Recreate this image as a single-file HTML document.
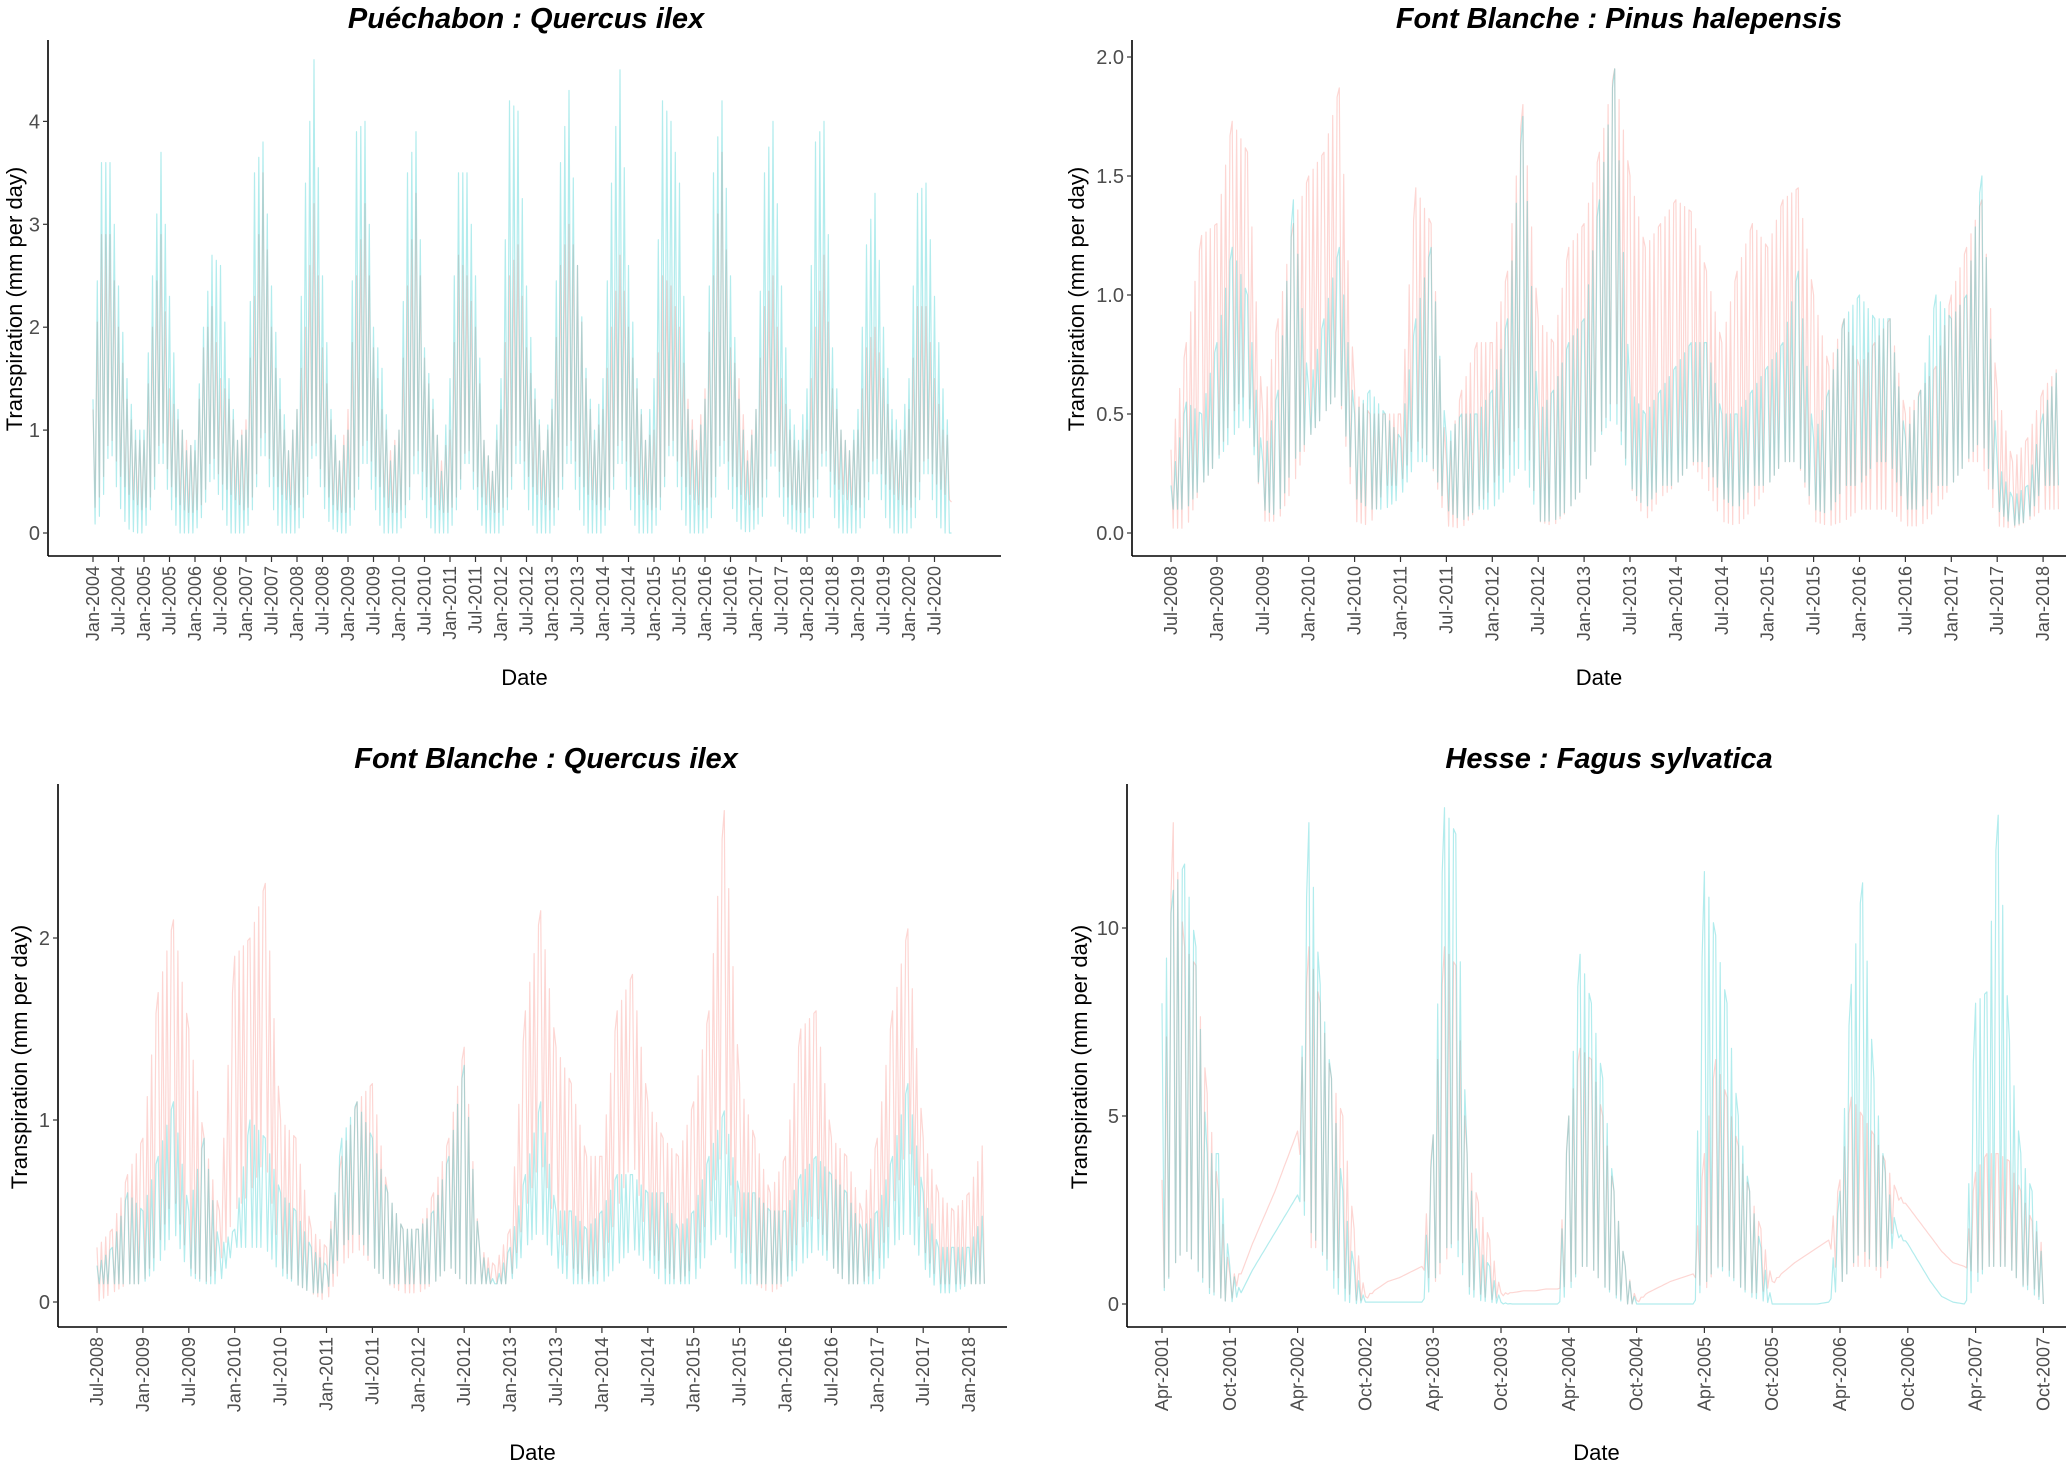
<!DOCTYPE html>
<html><head><meta charset="utf-8"><style>
body{margin:0;background:#fff;}
svg{display:block;font-family:"Liberation Sans",sans-serif;}
</style></head><body>
<svg id="c" width="2067" height="1461" viewBox="0 0 2067 1461"></svg>
<script>
// ---- Puéchabon: Quercus ilex (bimonthly from Jan-2004)
const pqTealHi=[1.3,3.6,3.6,2.4,1.5,1.0, 1.0,2.5,3.7,2.3,1.2,0.8, 0.9,2.0,2.7,2.6,1.5,0.9, 1.0,3.5,3.8,2.4,1.5,0.8, 1.2,3.4,4.6,2.5,1.2,0.7, 1.0,3.9,4.0,2.0,1.6,0.7, 1.0,3.5,3.9,1.8,1.3,0.6, 1.5,3.5,3.5,2.5,0.9,0.6, 1.5,4.2,4.1,2.4,1.4,0.8, 1.3,3.6,4.3,2.6,1.6,1.0, 1.5,3.4,4.5,2.6,1.5,0.9, 1.5,4.2,4.0,3.4,1.2,0.8, 1.3,3.5,4.2,2.5,1.3,0.7, 1.2,3.5,4.0,2.4,1.2,0.9, 1.4,3.8,4.0,1.8,1.0,0.8, 1.2,2.8,3.3,2.0,1.2,1.0, 1.5,3.3,3.4,2.3,1.4,0.8];
const pqTealLo=[0.05,0.2,0.9,0.3,0.05,0.0, 0.0,0.3,0.8,0.3,0.0,0.0, 0.0,0.2,0.6,0.3,0.0,0.0, 0.0,0.3,0.9,0.3,0.0,0.0, 0.0,0.2,0.9,0.3,0.05,0.0, 0.0,0.3,0.8,0.3,0.0,0.0, 0.0,0.2,0.7,0.2,0.0,0.0, 0.0,0.3,0.8,0.3,0.0,0.0, 0.0,0.3,0.8,0.3,0.0,0.0, 0.0,0.3,0.8,0.3,0.0,0.0, 0.0,0.3,0.8,0.3,0.0,0.0, 0.0,0.3,0.9,0.3,0.0,0.0, 0.0,0.2,0.8,0.3,0.05,0.0, 0.05,0.2,0.8,0.2,0.05,0.0, 0.0,0.2,0.8,0.2,0.0,0.0, 0.0,0.2,0.7,0.2,0.0,0.0, 0.0,0.2,0.7,0.2,0.0,0.0];
const pqSalHi=[1.2,2.9,2.9,2.0,1.3,0.9, 0.9,2.0,2.9,1.4,1.1,0.9, 0.8,1.8,2.2,1.5,1.3,0.9, 1.1,2.3,3.5,2.0,1.2,0.8, 1.2,2.0,3.2,1.8,1.1,0.7, 1.2,2.5,3.2,1.8,1.2,0.8, 1.0,2.4,3.3,1.7,1.2,0.7, 1.0,2.7,2.5,2.0,0.9,0.6, 1.2,2.5,2.8,1.8,1.3,0.8, 1.2,2.6,3.0,2.6,1.5,0.9, 1.2,2.0,2.7,2.0,1.4,0.9, 1.0,2.5,2.4,2.0,1.3,0.9, 1.4,2.5,3.7,1.8,1.5,0.8, 1.2,2.2,2.5,1.5,1.0,0.8, 1.0,2.0,2.7,1.4,1.0,0.8, 1.0,1.8,2.0,1.5,1.0,0.8, 1.2,2.2,2.2,1.5,1.0,0.9];
const pqSalLo=[0.2,0.4,1.0,0.6,0.4,0.3, 0.2,0.4,1.0,0.5,0.3,0.2, 0.2,0.3,0.8,0.5,0.4,0.3, 0.2,0.4,1.1,0.6,0.4,0.3, 0.2,0.4,1.0,0.5,0.3,0.2, 0.2,0.4,1.0,0.6,0.4,0.2, 0.2,0.3,0.9,0.5,0.3,0.2, 0.2,0.4,0.9,0.5,0.3,0.2, 0.2,0.4,1.0,0.6,0.4,0.3, 0.2,0.4,1.0,0.6,0.4,0.3, 0.2,0.4,1.0,0.6,0.4,0.3, 0.2,0.4,1.0,0.6,0.4,0.3, 0.2,0.4,1.0,0.6,0.4,0.3, 0.2,0.4,0.9,0.5,0.3,0.2, 0.2,0.4,0.9,0.5,0.4,0.3, 0.2,0.4,0.8,0.5,0.4,0.3, 0.2,0.4,0.8,0.5,0.4,0.3];
const pqTicks=["Jan-2004","Jul-2004","Jan-2005","Jul-2005","Jan-2006","Jul-2006","Jan-2007","Jul-2007","Jan-2008","Jul-2008","Jan-2009","Jul-2009","Jan-2010","Jul-2010","Jan-2011","Jul-2011","Jan-2012","Jul-2012","Jan-2013","Jul-2013","Jan-2014","Jul-2014","Jan-2015","Jul-2015","Jan-2016","Jul-2016","Jan-2017","Jul-2017","Jan-2018","Jul-2018","Jan-2019","Jul-2019","Jan-2020","Jul-2020"];
const pqYTicks=[0,1,2,3,4];
// ---- Font Blanche: Pinus halepensis (bimonthly from Jul-2008)
const fpSalHi=[.35,.8,1.25, 1.3,1.73,1.6,.5,.9,1.3, 1.5,1.6,1.87,.6,.5,.5, .5,1.45,1.3,.3,.6,.8, .8,1.1,1.8,.9,.8,1.2, 1.3,1.6,1.95,1.5,1.2,1.3, 1.4,1.35,1.1,.8,1.1,1.3, 1.2,1.4,1.45,1.0,.7,.9, .7,.8,.9,.5,.6,.7, 1.0,1.2,1.4,.6,.3,.4, .6,.7];
const fpSalLo=[.02,.02,.2, .3,.5,.6,.05,.05,.2, .4,.5,.6,.05,.03,.2, .2,.4,.3,.03,.02,.1, .2,.3,.5,.05,.03,.1, .2,.4,.6,.2,.05,.15, .2,.3,.2,.05,.03,.1, .2,.3,.3,.05,.03,.05, .1,.1,.1,.03,.03,.1, .2,.3,.3,.03,.02,.05, .1,.1];
const fpTealHi=[.2,.55,.5, .8,1.2,1.0,.3,.6,1.4, .6,.9,1.2,.5,.6,.5, .4,.9,1.2,.4,.5,.5, .6,.9,1.75,.5,.6,.8, .9,1.4,1.95,.6,.5,.6, .7,.8,.8,.5,.5,.6, .7,.8,1.1,.4,.6,.9, 1.0,.9,.9,.4,.6,1.0, .9,1.0,1.5,.3,.15,.2, .5,.7];
const fpTealLo=[.1,.1,.2, .3,.4,.5,.1,.07,.3, .4,.5,.6,.15,.1,.1, .15,.3,.3,.1,.05,.1, .1,.2,.3,.05,.05,.1, .2,.4,.5,.2,.1,.2, .2,.3,.3,.15,.1,.2, .2,.3,.3,.1,.08,.2, .2,.3,.3,.1,.1,.2, .2,.3,.4,.1,.03,.05, .2,.2];
const fbTicks=["Jul-2008","Jan-2009","Jul-2009","Jan-2010","Jul-2010","Jan-2011","Jul-2011","Jan-2012","Jul-2012","Jan-2013","Jul-2013","Jan-2014","Jul-2014","Jan-2015","Jul-2015","Jan-2016","Jul-2016","Jan-2017","Jul-2017","Jan-2018"];
const fpYTicks=[0,0.5,1,1.5,2];
// ---- Font Blanche: Quercus ilex (bimonthly from Jul-2008)
const fqSalHi=[.3,.4,.7, .9,1.7,2.1,1.5,.9,.5, 1.9,2.0,2.3,1.0,.9,.4, .3,.8,1.1,1.2,.6,.4, .4,.6,.9,1.4,.3,.2, .4,1.6,2.15,1.4,1.2,.8, .8,1.6,1.8,1.1,.9,.8, 1.1,1.6,2.7,1.2,.9,.6, .8,1.5,1.6,.9,.8,.5, .9,1.6,2.05,.9,.6,.5, .6,.9];
const fqSalLo=[0,.05,.1, .1,.3,.6,.2,.1,.2, .5,.6,.8,.2,.1,.05, 0,.2,.3,.2,.1,.05, .05,.1,.2,.1,.1,.1, .1,.5,.8,.4,.2,.1, .2,.5,.8,.3,.2,.1, .2,.5,.9,.3,.1,.05, .1,.4,.5,.2,.1,.1, .2,.5,.9,.3,.1,.1, .1,.1];
const fqTealHi=[.2,.3,.6, .5,.8,1.1,.5,.9,.3, .4,1.0,.9,.6,.5,.3, .2,.9,1.1,.9,.6,.4, .4,.5,.8,1.3,.3,.1, .3,.7,1.1,.5,.5,.4, .5,.7,.7,.6,.6,.4, .5,.8,1.05,.6,.6,.5, .5,.7,.8,.7,.6,.4, .5,.8,1.2,.6,.3,.3, .3,.5];
const fqTealLo=[.1,.1,.1, .1,.2,.4,.15,.1,.1, .3,.3,.3,.15,.1,.05, .05,.3,.4,.2,.1,.1, .1,.1,.2,.1,.1,.1, .1,.3,.4,.2,.1,.1, .1,.2,.3,.2,.1,.1, .1,.3,.4,.1,.1,.1, .1,.2,.3,.2,.1,.1, .1,.3,.4,.2,.05,.05, .1,.1];
const fqYTicks=[0,1,2];
// ---- Hesse: Fagus sylvatica (monthly from Apr-2001)
const hsSalHi=[3.3,12.8,9.5,9,5.6,3,.8,.8,1.6, 2.3,3,3.8,4.6,9.5,8,6,5,2,.2,.4,.6, .7,.85,1,4.5,9.5,9,4,2.7,1.7,.3,.3,.35, .35,.4,.4,5,6.8,6.5,5,3,1,.1,.3,.45, .6,.7,.8,4,6.5,5.5,4.2,3,2,.6,.85,1.1, 1.3,1.5,1.7,3.3,5.5,5,4.5,3.8,3,2.6,2.2,1.8, 1.4,1.1,1.0,3.5,4,4,3.8,3,2.2,1.5];
const hsSalLo=[.3,1,1.5,1,.5,.2,0,.8,1.6, 2.3,3,3.8,4.6,1.5,1.5,1,.5,.1,.1,.4,.6, .7,.85,1,.5,1,2,.5,.3,.1,.2,.3,.35, .35,.4,.4,.5,1,1,.5,.3,0,0,.3,.45, .6,.7,.8,.3,1,1,.5,.3,.3,.5,.85,1.1, 1.3,1.5,1.7,.5,1,1,1,.5,2.8,2.6,2.2,1.8, 1.4,1.1,1.0,.8,1,1,1,.5,.5,0];
const hsTealHi=[8,11,11.7,9.5,4,4,1,.3,.9, 1.4,1.9,2.4,2.9,12.8,8.5,6,3,1,.05,.05,.05, .05,.05,.05,4.5,13.2,12.5,4,1.5,1,.05,0,0, 0,0,0,5,9.3,8,6,3,1,0,0,0, 0,0,0,11.5,9.8,8,5,3,1.5,0,0,0, 0,0,.05,3,8.5,11.2,6,3.5,2,1.6,1.1,.6, .2,.05,0,8,8.3,13,7,4,3,1];
const hsTealLo=[.2,1,1.5,1,.3,.2,0,.3,.9, 1.4,1.9,2.4,2.9,2,1.5,.5,.1,0,.05,.05,.05, .05,.05,.05,.5,1.5,1.5,.3,.1,.05,0,0,0, 0,0,0,.3,1,1,.5,.2,0,0,0,0, 0,0,0,.5,1,.8,.5,.2,.1,0,0,0, 0,0,.05,.5,1,1.5,1,1,1.8,1.6,1.1,.6, .2,.05,0,.5,1,1,1,.5,.3,0];
const hsTicks=["Apr-2001","Oct-2001","Apr-2002","Oct-2002","Apr-2003","Oct-2003","Apr-2004","Oct-2004","Apr-2005","Oct-2005","Apr-2006","Oct-2006","Apr-2007","Oct-2007"];
const hsYTicks=[0,5,10];

const NS="http://www.w3.org/2000/svg";
const svg=document.getElementById('c');
function mk(tag,attrs,parent){const e=document.createElementNS(NS,tag);for(const k in attrs)e.setAttribute(k,attrs[k]);(parent||svg).appendChild(e);return e;}

function panel(cfg){
  const g=mk('g',{});
  
  
  const xOf=m=>cfg.x0+m*cfg.mpx;
  const yOf=v=>cfg.y0-v*cfg.ypu;
  cfg.series.forEach(s=>{
    const pts=[];
    for(let i=0;i<s.hi.length-1;i++){
      const xa=xOf(cfg.start+i*cfg.step), xb=xOf(cfg.start+(i+1)*cfg.step);
      const n=Math.max(2,Math.round((xb-xa)/2.2));
      for(let k=0;k<n;k++){
        const t=k/n;
        const hi=s.hi[i]+(s.hi[i+1]-s.hi[i])*t, lo=s.lo[i]+(s.lo[i+1]-s.lo[i])*t;
        pts.push((xa+(xb-xa)*t).toFixed(1)+','+yOf(k%2?lo:hi).toFixed(1));
      }
    }
    const last=s.hi.length-1;
    pts.push(xOf(cfg.start+last*cfg.step).toFixed(1)+','+yOf(s.lo[last]).toFixed(1));
    const pl=mk('polyline',{points:pts.join(' '),fill:'none',stroke:s.color,'stroke-width':1.2,'stroke-opacity':0.3,'stroke-linejoin':'round'},g);
    
    
  });
  const ya=mk('line',{x1:cfg.ax,y1:cfg.top,x2:cfg.ax,y2:cfg.axY,stroke:'#000','stroke-width':1.6},g);
  
  
  const xa=mk('line',{x1:cfg.ax,y1:cfg.axY,x2:cfg.right,y2:cfg.axY,stroke:'#000','stroke-width':1.6},g);
  
  
  cfg.yticks.forEach(v=>{
    const y=yOf(v);
    mk('line',{x1:cfg.ax-5,y1:y,x2:cfg.ax,y2:y,stroke:'#333','stroke-width':1.2},g);
    const t=mk('text',{x:cfg.ax-8,y:y+7,'text-anchor':'end','font-size':20,fill:'#4d4d4d'},g);
    t.textContent=cfg.yfmt?v.toFixed(1):String(v);
    
    
  });
  cfg.xticks.forEach((lab,i)=>{
    const x=xOf(cfg.tick0+i*cfg.tickStep);
    mk('line',{x1:x,y1:cfg.axY,x2:x,y2:cfg.axY+6,stroke:'#333','stroke-width':1.2},g);
    const t=mk('text',{x:x+6,y:cfg.axY+10,'text-anchor':'end','font-size':18,fill:'#4d4d4d',transform:`rotate(-90 ${x+6} ${cfg.axY+10})`},g);
    t.textContent=lab;
    
    
  });
  const ti=mk('text',{x:cfg.tx,y:cfg.ty,'text-anchor':'middle','font-size':29,'font-weight':'bold','font-style':'italic',fill:'#000'},g);
  ti.textContent=cfg.title;
  
  
  const xt=mk('text',{x:(cfg.ax+cfg.right)/2,y:cfg.dateY,'text-anchor':'middle','font-size':22,fill:'#000'},g);
  xt.textContent='Date';
  
  
  const yt=mk('text',{x:cfg.ylx,y:cfg.yly,'text-anchor':'middle','font-size':22,fill:'#000',transform:`rotate(-90 ${cfg.ylx} ${cfg.yly})`},g);
  yt.textContent='Transpiration (mm per day)';
  
  
}
const SAL='#F8766D',TEAL='#00BFC4';
panel({name:'puechabon-panel',title:'Puéchabon : Quercus ilex',tx:526,ty:28,x0:93,mpx:4.25,start:0,step:2,y0:533,ypu:102.9,ax:48,top:40,axY:556,right:1001,
  tick0:0,tickStep:6,xticks:pqTicks,yticks:pqYTicks,dateY:685,ylx:22,yly:299,
  series:[{name:'series-salmon',color:SAL,hi:pqSalHi,lo:pqSalLo},{name:'series-teal',color:TEAL,hi:pqTealHi,lo:pqTealLo}]});
panel({name:'font-blanche-pinus-panel',title:'Font Blanche : Pinus halepensis',tx:1619,ty:28,x0:1171,mpx:7.65,start:0,step:2,y0:533,ypu:238,ax:1132,top:40,axY:556,right:2066,
  tick0:0,tickStep:6,xticks:fbTicks,yticks:fpYTicks,yfmt:true,dateY:685,ylx:1084,yly:299,
  series:[{name:'series-salmon',color:SAL,hi:fpSalHi,lo:fpSalLo},{name:'series-teal',color:TEAL,hi:fpTealHi,lo:fpTealLo}]});
panel({name:'font-blanche-quercus-panel',title:'Font Blanche : Quercus ilex',tx:546,ty:768,x0:97,mpx:7.65,start:0,step:2,y0:1302,ypu:182,ax:58,top:784,axY:1327,right:1007,
  tick0:0,tickStep:6,xticks:fbTicks,yticks:fqYTicks,dateY:1460,ylx:27,yly:1057,
  series:[{name:'series-salmon',color:SAL,hi:fqSalHi,lo:fqSalLo},{name:'series-teal',color:TEAL,hi:fqTealHi,lo:fqTealLo}]});
panel({name:'hesse-panel',title:'Hesse : Fagus sylvatica',tx:1609,ty:768,x0:1162,mpx:11.3,start:0,step:1,y0:1304,ypu:37.6,ax:1127,top:784,axY:1327,right:2066,
  tick0:0,tickStep:6,xticks:hsTicks,yticks:hsYTicks,dateY:1460,ylx:1087,yly:1057,
  series:[{name:'series-salmon',color:SAL,hi:hsSalHi,lo:hsSalLo},{name:'series-teal',color:TEAL,hi:hsTealHi,lo:hsTealLo}]});
</script>
</body></html>
